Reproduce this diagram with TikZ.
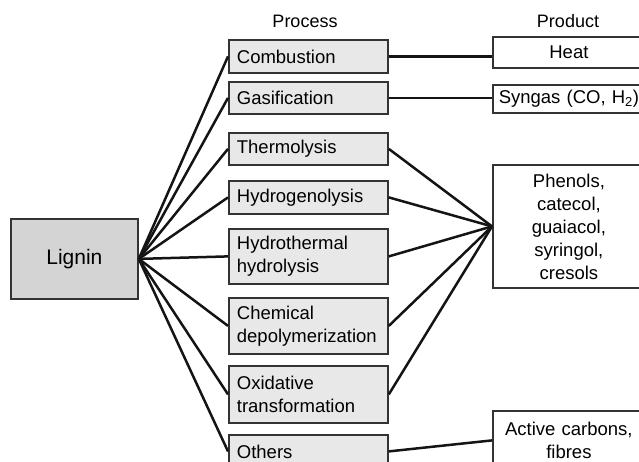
\documentclass[tikz,border=0pt]{standalone}
\usepackage{fontspec}
\setmainfont{Liberation Sans}
\usepackage{tikz}
\tikzset{
BOX/.style ={draw=black!80,line width=1.8pt,rectangle,anchor=north west,inner ysep=2pt,
	font=\fontsize{18.5}{23}\selectfont},
SOURCE/.style ={BOX,fill=black!17,minimum width=127pt,minimum height=80pt,
	font=\fontsize{21}{25}\selectfont},
PROCESS/.style ={BOX,fill=black!9,inner xsep=8pt,text width=143pt,align=left,minimum height=#1},
PROCESS/.default = 33pt,
PRODUCT/.style ={BOX,fill=white,inner xsep=4pt,text width=144pt,align=center,minimum height=#1},
PRODUCT/.default = 31pt,
LINK/.style ={draw=black!92,line width=2.5pt,line cap=butt},
HEAD/.style ={font=\fontsize{18}{21}\selectfont},
}
\begin{document}
\begin{tikzpicture}
[x=1pt,y=-1pt]
	\useasboundingbox (0,0) rectangle (639,462);
	\clip (0,0) rectangle (639,462); %Boxes run off the edge
	%Column heads
	\node[HEAD] (headproc) at (305,21) {Process};
	\node[HEAD] (headprod) at (568,21) {Product};
	%Feedstock
	\node[SOURCE] (lignin) at (10,218) {Lignin};
	%Processes
	\node[PROCESS] (comb) at (228,39) {Combustion};
	\node[PROCESS=32pt] (gasif) at (228,81) {Gasification};
	\node[PROCESS=32pt] (thermo) at (228,132) {Thermolysis};
	\node[PROCESS] (hydrog) at (228,180) {Hydrogenolysis};
	\node[PROCESS=55pt] (hydroth) at (228,228) {Hydrothermal\\hydrolysis};
	\node[PROCESS=56pt] (chem) at (228,297) {Chemical\\depolymerization};
	\node[PROCESS=57pt] (oxid) at (228,365) {Oxidative\\transformation};
	\node[PROCESS] (others) at (228,434) {Others};
	%Products
	\node[PRODUCT] (heat) at (492,36) {Heat};
	\node[PRODUCT=28pt] (syngas) at (492,84) {Syngas (CO, H\textsubscript{2})};
	\node[PRODUCT=123pt] (phenols) at (492,164) {Phenols,\\catecol,\\guaiacol,\\syringol,\\cresols};
	\node[PRODUCT=59pt] (carbons) at (492,410) {Active carbons,\\fibres};
	%Lignin to processes
	\path[LINK] (lignin.east) -- (comb.west);
	\path[LINK] (lignin.east) -- (gasif.west);
	\path[LINK] (lignin.east) -- (thermo.west);
	\path[LINK] (lignin.east) -- (hydrog.west);
	\path[LINK] (lignin.east) -- (hydroth.west);
	\path[LINK] (lignin.east) -- (chem.west);
	\path[LINK] (lignin.east) -- (oxid.west);
	\path[LINK] (lignin.east) -- (others.west);
	%Processes to products
	\path[LINK] (comb.east) -- (comb.east -| heat.west);
	\path[LINK] (gasif.east) -- (gasif.east -| syngas.west);
	\path[LINK] (thermo.east) -- (phenols.west);
	\path[LINK] (hydrog.east) -- (phenols.west);
	\path[LINK] (hydroth.east) -- (phenols.west);
	\path[LINK] (chem.east) -- (phenols.west);
	\path[LINK] (oxid.east) -- (phenols.west);
	\path[LINK] (others.east) -- (carbons.west);
\end{tikzpicture}
\end{document}
